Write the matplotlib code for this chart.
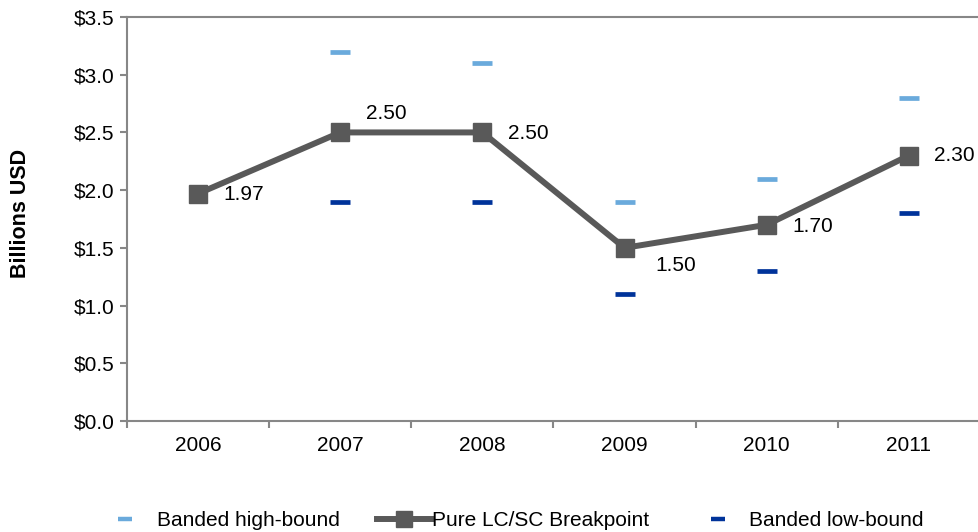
import matplotlib.pyplot as plt
from matplotlib.lines import Line2D

plt.rcParams['font.family'] = ['Liberation Sans', 'DejaVu Sans']

years = ['2006', '2007', '2008', '2009', '2010', '2011']
breakpoint = [1.97, 2.50, 2.50, 1.50, 1.70, 2.30]
high_bound = [None, 3.2, 3.1, 1.9, 2.1, 2.8]
low_bound = [None, 1.9, 1.9, 1.1, 1.3, 1.8]

# label offsets (points) for each breakpoint value
label_offsets = [(32.5, -1), (33, 13.5), (33, -0.5), (37, -12.5), (33, -1), (33, 0)]

GREY = '#595959'
LIGHT = '#6AAADC'
DARK = '#00339A'
AXIS = '#878787'
FS = 15

fig = plt.figure(figsize=(9.79, 5.32), dpi=100)
ax = fig.add_axes([127 / 979, 111 / 532, 853 / 979, 404 / 532])

x = list(range(len(years)))
hx = [i for i, v in zip(x, high_bound) if v is not None]
hv = [v for v in high_bound if v is not None]
lx = [i for i, v in zip(x, low_bound) if v is not None]
lv = [v for v in low_bound if v is not None]

ax.plot(hx, hv, ls='none', marker='_', ms=15, mew=3.4, color=LIGHT, zorder=3)
ax.plot(lx, lv, ls='none', marker='_', ms=15, mew=3.4, color=DARK, zorder=3)
ax.plot(x, breakpoint, color=GREY, lw=4.3, marker='s', ms=13.5, zorder=4)

for i, v in enumerate(breakpoint):
    ax.annotate(f'{v:.2f}', (i, v), xytext=label_offsets[i],
                textcoords='offset points', ha='center', va='center',
                fontsize=FS, color='black')

ax.set_xlim(-0.5, len(years) - 0.5)
ax.set_ylim(0, 3.5)
ax.set_yticks([i * 0.5 for i in range(8)])
ax.set_yticklabels([f'${i * 0.5:.1f}' for i in range(8)], fontsize=FS)
ax.set_xticks(x)
ax.set_xticklabels(years, fontsize=FS)
ax.set_xticks([i - 0.5 for i in range(len(years) + 1)], minor=True)
ax.tick_params(axis='x', which='major', length=0, pad=11)
ax.tick_params(axis='x', which='minor', length=5, width=1.5, color=AXIS)
ax.tick_params(axis='y', length=5, width=1.5, color=AXIS, pad=4)

for side in ['left', 'bottom', 'top']:
    ax.spines[side].set_color(AXIS)
    ax.spines[side].set_linewidth(1.5)
ax.spines['right'].set_visible(False)

ax.set_ylabel('Billions USD', fontsize=15.5, fontweight='bold')
ax.yaxis.set_label_coords(-0.1125, 0.514)

# legend entries placed along the bottom
entries = [
    (Line2D([], [], ls='none', marker='_', ms=9.5, mew=3.2, color=LIGHT),
     'Banded high-bound', 104 / 979, 2, 0.53),
    (Line2D([], [], color=GREY, lw=4.3, marker='s', ms=11),
     'Pure LC/SC Breakpoint', 377 / 979, 2.6, 0.05),
    (Line2D([], [], ls='none', marker='_', ms=9.5, mew=3.2, color=DARK),
     'Banded low-bound', 697 / 979, 2, 0.5),
]
for handle, text, xpos, hl, pad in entries:
    fig.legend([handle], [text], loc='center left',
               bbox_to_anchor=(xpos, 11 / 532), frameon=False,
               fontsize=FS, handlelength=hl, handletextpad=pad,
               borderpad=0, borderaxespad=0)

plt.savefig('out.png', dpi=100)
